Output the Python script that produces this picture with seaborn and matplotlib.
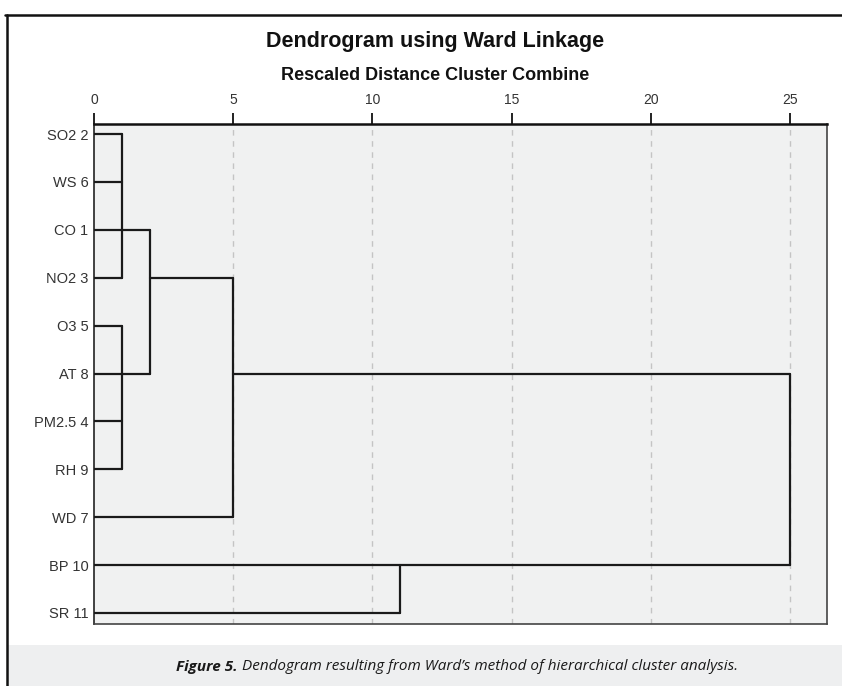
import pandas as pd
import seaborn as sns
import matplotlib.pyplot as plt
from matplotlib.patches import Rectangle
from matplotlib.lines import Line2D

# --- dados do dendrograma ---
rotulos = ['SO2 2', 'WS 6', 'CO 1', 'NO2 3', 'O3 5', 'AT 8',
           'PM2.5 4', 'RH 9', 'WD 7', 'BP 10', 'SR 11']
fim_folha = [1, 1, 2, 1, 1, 2, 1, 1, 5, 25, 11]  # onde termina a linha de cada folha

# junções: altura, linha de cima, linha de baixo
juncao_altura = [1, 1, 2, 5, 11, 25]
juncao_topo = ['SO2 2', 'O3 5', 'CO 1', 'NO2 3', 'BP 10', 'AT 8']
juncao_base = ['NO2 3', 'RH 9', 'AT 8', 'WD 7', 'SR 11', 'BP 10']

# ligações horizontais entre junções
ligacao_linha = ['NO2 3', 'AT 8']
ligacao_de = [2, 5]
ligacao_ate = [5, 25]

pos = {r: i for i, r in enumerate(rotulos)}

linhas = []
seg = 0
for r, fim in zip(rotulos, fim_folha):
    linhas += [(seg, 0, pos[r]), (seg, fim, pos[r])]
    seg += 1
for h, t, b in zip(juncao_altura, juncao_topo, juncao_base):
    linhas += [(seg, h, pos[t]), (seg, h, pos[b])]
    seg += 1
for r, a, b in zip(ligacao_linha, ligacao_de, ligacao_ate):
    linhas += [(seg, a, pos[r]), (seg, b, pos[r])]
    seg += 1
df = pd.DataFrame(linhas, columns=['seg', 'dist', 'linha'])

sns.set_style('white')
plt.rcParams['font.family'] = ['Liberation Sans', 'DejaVu Sans']

fig = plt.figure(figsize=(8.42, 6.86), dpi=100)
ax = fig.add_axes([94 / 842, 1 - 624 / 686, 733 / 842, 500 / 686])
ax.set_facecolor('#f0f1f1')

for x in [5, 10, 15, 20, 25]:
    ax.axvline(x, color='#c4c4c4', lw=1, ls=(0, (4, 4)), zorder=1)

sns.lineplot(data=df, x='dist', y='linha', units='seg', estimator=None,
             sort=False, color='#1a1a1a', lw=1.6, ax=ax, zorder=3)

ax.set_xlim(0, 26.33)
ax.set_ylim(10.23, -0.21)
ax.set_xlabel('')
ax.set_ylabel('')
ax.xaxis.tick_top()
ax.set_xticks([0, 5, 10, 15, 20, 25])
ax.tick_params(axis='x', direction='out', length=8, width=1.4, color='#222222',
               labelsize=10, labelcolor='#333333', pad=4)
ax.set_yticks(range(len(rotulos)))
ax.set_yticklabels(rotulos)
ax.tick_params(axis='y', length=0, labelsize=10.5, labelcolor='#333333', pad=4)
for lado, spine in ax.spines.items():
    spine.set_visible(True)
    spine.set_color('#444444')
    spine.set_linewidth(1.2)
ax.spines['top'].set_color('#111111')
ax.spines['top'].set_linewidth(1.8)
ax.spines['left'].set_color('#222222')

fig.text(435 / 842, 1 - 41 / 686, 'Dendrogram using Ward Linkage', ha='center',
         va='center', fontsize=15.5, fontweight='bold', color='#111111')
fig.text(435 / 842, 1 - 76 / 686, 'Rescaled Distance Cluster Combine', ha='center',
         va='center', fontsize=13, fontweight='bold', color='#111111')

# moldura externa e faixa da legenda
fig.add_artist(Rectangle((8 / 842, 0), 1, 41 / 686, transform=fig.transFigure,
                         facecolor='#eeeff0', edgecolor='none', zorder=0))
fig.add_artist(Line2D([5 / 842, 1], [1 - 15 / 686] * 2, transform=fig.transFigure,
                      color='#111111', lw=1.8))
fig.add_artist(Line2D([7 / 842] * 2, [0, 1 - 15 / 686], transform=fig.transFigure,
                      color='#111111', lw=1.8))

fonte_legenda = ['Open Sans', 'DejaVu Sans']
t1 = fig.text(176 / 842, 1 - 667 / 686, 'Figure 5.', ha='left', va='center',
              fontsize=11, fontweight='bold', style='italic', family=fonte_legenda,
              color='#1a1a1a')
fig.canvas.draw()
bb = t1.get_window_extent()
fig.text((bb.x1 + 5) / 842, 1 - 667 / 686,
         'Dendogram resulting from Ward\u2019s method of hierarchical cluster analysis.',
         ha='left', va='center', fontsize=11, style='italic',
         family=fonte_legenda, color='#1a1a1a')

fig.savefig('out.png', dpi=100)
